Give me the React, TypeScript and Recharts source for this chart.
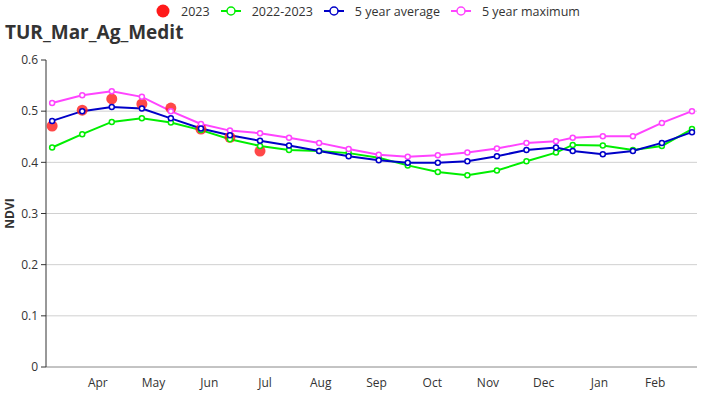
import React from 'react';
import { LineChart, Line, XAxis, YAxis, CartesianGrid } from 'recharts';

// x position in month units (Jan 1 2022 = 0, Apr 1 2022 = 3, Jan 1 2023 = 12)
const monthPos = [2.68, 3.22, 3.75, 4.29, 4.81, 5.35, 5.87, 6.41, 6.93, 7.47, 8.0, 8.54, 9.06, 9.6, 10.13, 10.66, 11.19, 11.72, 12.02, 12.56, 13.1, 13.62, 14.16];
const ndvi2023 = [0.471, 0.502, 0.524, 0.514, 0.506, 0.465, 0.449, 0.422];
const ndvi2022_2023 = [0.429, 0.455, 0.479, 0.486, 0.478, 0.463, 0.445, 0.432, 0.424, 0.422, 0.418, 0.409, 0.394, 0.381, 0.375, 0.384, 0.402, 0.419, 0.434, 0.433, 0.424, 0.432, 0.465];
const avg5 = [0.481, 0.5, 0.508, 0.505, 0.486, 0.466, 0.453, 0.442, 0.433, 0.422, 0.412, 0.404, 0.399, 0.399, 0.402, 0.412, 0.424, 0.429, 0.422, 0.416, 0.422, 0.438, 0.459];
const max5 = [0.516, 0.531, 0.539, 0.528, 0.5, 0.475, 0.462, 0.457, 0.448, 0.438, 0.426, 0.415, 0.411, 0.414, 0.419, 0.427, 0.438, 0.441, 0.448, 0.451, 0.451, 0.477, 0.5];

const monthLabels = ['Apr', 'May', 'Jun', 'Jul', 'Aug', 'Sep', 'Oct', 'Nov', 'Dec', 'Jan', 'Feb'];
const monthStarts = [3, 4, 5, 6, 7, 8, 9, 10, 11, 12, 13, 14];
const labelPos = monthLabels.map((_, i) => 3.5 + i);
const yTicks = [0, 0.1, 0.2, 0.3, 0.4, 0.5, 0.6];
const xDomain = [2.57, 14.25];

const COLORS = {
  y2023: '#ff1a1a',
  cur: '#00ee00',
  avg: '#0000c8',
  max: '#ff44ff',
};

const data = monthPos.map((x, i) => ({
  x,
  y2023: i < ndvi2023.length ? ndvi2023[i] : null,
  cur: ndvi2022_2023[i],
  avg: avg5[i],
  max: max5[i],
}));

const FONT = '"Open Sans", "Noto Sans", sans-serif';

const LineIcon = ({ color }: { color: string }) => (
  <svg width={20} height={12} style={{ display: 'block' }}>
    <line x1={0} y1={6} x2={20} y2={6} stroke={color} strokeWidth={2} />
    <circle cx={10} cy={6} r={4} fill="#fff" stroke={color} strokeWidth={1.5} />
  </svg>
);

const legendItems = [
  { key: 'y2023', label: '2023', type: 'dot' },
  { key: 'cur', label: '2022-2023', type: 'line' },
  { key: 'avg', label: '5 year average', type: 'line' },
  { key: 'max', label: '5 year maximum', type: 'line' },
];

export default function App() {
  return (
    <div style={{ position: 'relative', width: 726, height: 400, fontFamily: FONT, background: '#fff' }}>
      <style>{'body{margin:0}'}</style>
      <div
        style={{
          position: 'absolute',
          top: 2,
          left: 0,
          width: 726,
          height: 18,
          display: 'flex',
          justifyContent: 'center',
          alignItems: 'center',
          fontSize: 12.5,
          color: '#333',
          paddingLeft: 10,
          boxSizing: 'border-box',
        }}
      >
        {legendItems.map((it, idx) => (
          <div key={it.key} style={{ display: 'flex', alignItems: 'center', marginLeft: idx === 0 ? 0 : 11 }}>
            {it.type === 'dot' ? (
              <svg width={14} height={14} style={{ display: 'block' }}>
                <circle cx={7} cy={7} r={6.5} fill={COLORS.y2023} />
              </svg>
            ) : (
              <LineIcon color={(COLORS as any)[it.key]} />
            )}
            <span style={{ marginLeft: 11, whiteSpace: 'nowrap' }}>{it.label}</span>
          </div>
        ))}
      </div>
      <svg width={726} height={400} style={{ position: 'absolute', left: 0, top: 0, pointerEvents: 'none' }}>
        <text x={5} y={39} fontFamily={FONT} fontWeight={700} fontSize={19} fill="#333">
          TUR_Mar_Ag_Medit
        </text>
        <text
          x={0}
          y={0}
          transform="translate(14,213.5) rotate(-90)"
          textAnchor="middle"
          fontFamily={FONT}
          fontWeight={700}
          fontSize={12}
          fill="#333"
        >
          NDVI
        </text>
      </svg>
      <div style={{ position: 'absolute', left: 0, top: 0 }}>
        <LineChart width={726} height={400} data={data} margin={{ top: 60, right: 29, left: 8, bottom: 0 }}>
          <CartesianGrid vertical={false} stroke="#d0d0d0" horizontalValues={[0.1, 0.2, 0.3, 0.4, 0.5]} />
          <XAxis
            xAxisId="a"
            dataKey="x"
            type="number"
            domain={xDomain}
            allowDataOverflow
            ticks={monthStarts}
            interval={0}
            tick={false}
            tickSize={5}
            height={6}
            axisLine={{ stroke: '#888' }}
            tickLine={{ stroke: '#888' }}
          />
          <XAxis
            xAxisId="b"
            dataKey="x"
            type="number"
            domain={xDomain}
            allowDataOverflow
            ticks={labelPos}
            interval={0}
            tickFormatter={(v: number) => monthLabels[Math.round(v - 3.5)]}
            tickLine={false}
            axisLine={false}
            tickSize={0}
            tickMargin={5}
            height={27}
            tick={{ fill: '#333', fontSize: 12, fontFamily: FONT }}
          />
          <YAxis
            type="number"
            domain={[0, 0.6]}
            ticks={yTicks}
            interval={0}
            width={38}
            tickSize={5}
            tickMargin={3}
            axisLine={{ stroke: '#333' }}
            tickLine={{ stroke: '#333' }}
            tick={{ fill: '#333', fontSize: 12, fontFamily: FONT }}
          />
          <Line
            xAxisId="a"
            dataKey="y2023"
            stroke="none"
            isAnimationActive={false}
            dot={{ r: 5.5, fill: COLORS.y2023, fillOpacity: 0.8, stroke: 'none' }}
            activeDot={false}
          />
          <Line
            xAxisId="a"
            dataKey="cur"
            stroke={COLORS.cur}
            strokeWidth={2}
            isAnimationActive={false}
            dot={{ r: 2.5, fill: '#fff', stroke: COLORS.cur, strokeWidth: 1.5 }}
            activeDot={false}
          />
          <Line
            xAxisId="a"
            dataKey="max"
            stroke={COLORS.max}
            strokeWidth={2}
            isAnimationActive={false}
            dot={{ r: 2.5, fill: '#fff', stroke: COLORS.max, strokeWidth: 1.5 }}
            activeDot={false}
          />
          <Line
            xAxisId="a"
            dataKey="avg"
            stroke={COLORS.avg}
            strokeWidth={2}
            isAnimationActive={false}
            dot={{ r: 2.5, fill: '#fff', stroke: COLORS.avg, strokeWidth: 1.5 }}
            activeDot={false}
          />
        </LineChart>
      </div>
    </div>
  );
}
